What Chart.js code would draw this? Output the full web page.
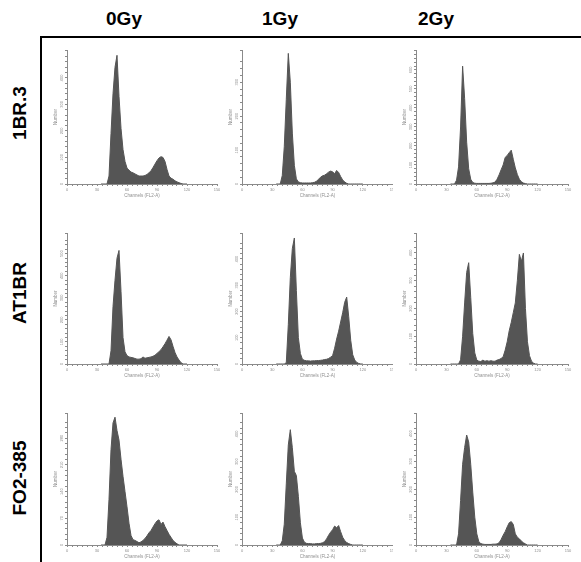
<!DOCTYPE html>
<html>
<head>
<meta charset="utf-8">
<script src="https://cdn.jsdelivr.net/npm/chart.js@4.4.1/dist/chart.umd.min.js"></script>
<style>
  html, body { margin: 0; padding: 0; background: #fff; }
  #fig { position: relative; width: 581px; height: 562px; overflow: hidden;
         font-family: "Liberation Sans", Arial, sans-serif; color: #000; }
  .frame { position: absolute; left: 40px; top: 36px; width: 560px; height: 540px;
           border-left: 2px solid #000; border-top: 2px solid #000; }
  .col-head { position: absolute; top: 7px; width: 100px; margin-left: -50px; text-align: center;
              font-weight: bold; font-size: 19px; line-height: 24px; }
  .row-head { position: absolute; left: 20px; width: 140px; height: 24px; margin-left: -70px; margin-top: -12px;
              text-align: center; font-weight: bold; font-size: 19px; line-height: 24px; transform: rotate(-90deg); }
  .cell { position: absolute; overflow: hidden; }
  .cell canvas { position: absolute; }
</style>
</head>
<body>
<div id="fig">
  <div class="frame"></div>
</div>
<script>
// Dose columns and cell-line rows
const doses = ['0Gy', '1Gy', '2Gy'];
const cellLines = ['1BR.3', 'AT1BR', 'FO2-385'];

// DNA content channel (FL2-A), shared by every histogram
const channels = [34,36,38,40,42,44,46,48,50,52, 54,56,58,60,62,64,66,68,70,72,
                  74,76,78,80,82,84,86,88,90,92, 94,96,98,100,102,104,106,108,110,112,
                  114,116,118,120];

// Cell counts per channel
const counts_1BR3_0Gy = [0,0,0,0,30,190,340,440,485,330, 210,130,85,60,52,45,42,38,34,30,
                         30,30,32,36,42,50,62,75,88,98, 103,100,85,55,30,22,18,12,8,5, 2,0,0,0];
const counts_1BR3_1Gy = [0,0,0,25,110,250,385,300,150,55, 15,6,4,3,3,3,3,3,4,5,
                         8,14,20,24,26,30,35,38,36,30, 40,34,22,12,6,2,0,0,0,0, 0,0,0,0];
const counts_1BR3_2Gy = [0,0,0,20,90,300,620,450,220,80, 25,8,4,3,3,3,3,3,3,3,
                         4,6,10,25,48,75,100,140,150,165, 178,130,85,50,25,12,5,2,0,0, 0,0,0,0];
const counts_AT1BR_0Gy = [0,0,0,0,0,60,260,380,480,515, 330,120,55,38,32,30,28,25,22,22,
                          24,32,26,28,30,32,35,40,48,56, 65,78,92,108,125,110,80,52,32,18, 6,0,0,0];
const counts_AT1BR_1Gy = [0,0,0,0,0,5,150,330,440,480, 280,100,40,18,14,12,12,11,12,12,
                          13,13,14,15,17,18,21,26,32,60, 95,125,160,195,235,255,180,90,35,15, 6,2,0,0];
const counts_AT1BR_2Gy = [0,0,0,0,0,15,100,220,330,365, 240,110,40,14,10,9,14,10,12,10,
                          12,10,10,14,16,20,26,50,80,120, 150,185,220,300,395,370,400,200,80,30, 10,3,0,0];
const counts_FO2_0Gy = [0,0,0,20,120,250,320,335,300,275, 225,180,140,100,57,25,14,12,9,6,
                        8,12,17,24,32,38,47,56,63,66, 54,60,48,38,28,20,12,7,3,0, 0,0,0,0];
const counts_FO2_1Gy = [0,0,0,15,75,220,360,415,350,265, 250,175,80,25,10,6,5,5,4,4,
                        5,5,6,8,12,22,35,46,55,68, 62,70,48,28,16,9,5,2,0,0, 0,0,0,0];
const counts_FO2_2Gy = [0,0,0,0,40,160,290,350,395,370, 290,190,100,40,12,5,3,2,2,2,
                        2,3,3,4,8,20,35,48,65,80, 84,74,40,28,22,14,8,4,0,0, 0,0,0,0];

// Histograms in row order (cell line), then column order (dose)
const panels = [
  [counts_1BR3_0Gy, counts_1BR3_1Gy, counts_1BR3_2Gy],
  [counts_AT1BR_0Gy, counts_AT1BR_1Gy, counts_AT1BR_2Gy],
  [counts_FO2_0Gy, counts_FO2_1Gy, counts_FO2_2Gy]
];

// Axis ranges and labelled tick spacing
const xMax = 150;
const xLabelStep = 30;
const yMax = [
  [505, 395, 705],
  [594, 499, 472],
  [346, 475, 474]
];
const yLabelStep = [
  [100, 100, 100],
  [100, 100, 100],
  [70, 100, 100]
];

// Layout of the 3x3 grid (pixels)
const axisLeft = [67, 242, 416];
const plotWidth = [150, 151, 152];
const plotTop = [50, 233, 413];
const plotBottom = [184, 364, 545];
const clipX = [[43, 220], [220, 393], [393, 572]];
const clipY = [[38, 220], [220, 400], [400, 562]];
const headX = [124, 280, 436];
const rowMid = [113, 293, 478];

const Y_AXIS_W = 14, X_AXIS_H = 14, PAD_TOP = 6, PAD_RIGHT = 8;
const INK = '#555555';
const AXIS = '#8a8a8a';
const LABEL = '#8f8f8f';

const fig = document.getElementById('fig');

doses.forEach((d, c) => {
  const el = document.createElement('div');
  el.className = 'col-head';
  el.style.left = headX[c] + 'px';
  el.textContent = d;
  fig.appendChild(el);
});
cellLines.forEach((name, r) => {
  const el = document.createElement('div');
  el.className = 'row-head';
  el.style.top = rowMid[r] + 'px';
  el.textContent = name;
  fig.appendChild(el);
});

function onStep(v, step) {
  const q = v / step;
  return Math.abs(q - Math.round(q)) < 1e-6;
}

for (let r = 0; r < 3; r++) {
  for (let c = 0; c < 3; c++) {
    const cell = document.createElement('div');
    cell.className = 'cell';
    cell.style.left = clipX[c][0] + 'px';
    cell.style.top = clipY[r][0] + 'px';
    cell.style.width = (clipX[c][1] - clipX[c][0]) + 'px';
    cell.style.height = (clipY[r][1] - clipY[r][0]) + 'px';
    fig.appendChild(cell);

    const w = Y_AXIS_W + plotWidth[c] + PAD_RIGHT;
    const h = PAD_TOP + (plotBottom[r] - plotTop[r]) + X_AXIS_H;
    const cv = document.createElement('canvas');
    cv.width = w; cv.height = h;
    cv.style.width = w + 'px'; cv.style.height = h + 'px';
    cv.style.left = (axisLeft[c] - Y_AXIS_W - clipX[c][0]) + 'px';
    cv.style.top = (plotTop[r] - PAD_TOP - clipY[r][0]) + 'px';
    cell.appendChild(cv);

    const counts = panels[r][c];
    const major = yLabelStep[r][c];
    new Chart(cv, {
      type: 'line',
      data: {
        datasets: [{
          data: channels.map((ch, i) => ({ x: ch, y: counts[i] })),
          fill: 'origin',
          backgroundColor: INK,
          borderColor: INK,
          borderWidth: 1,
          pointRadius: 0,
          tension: 0
        }]
      },
      options: {
        responsive: false,
        animation: false,
        devicePixelRatio: 1,
        layout: { padding: { left: 0, top: PAD_TOP, right: PAD_RIGHT, bottom: 0 } },
        plugins: { legend: { display: false }, tooltip: { enabled: false } },
        scales: {
          x: {
            type: 'linear', min: 0, max: xMax,
            afterFit: s => { s.height = X_AXIS_H; },
            ticks: {
              stepSize: 5, autoSkip: false, maxTicksLimit: 1000,
              minRotation: 0, maxRotation: 0, padding: 1,
              font: { size: 4, family: 'Liberation Sans' }, color: LABEL,
              callback: v => onStep(v, xLabelStep) ? String(v) : ''
            },
            grid: { drawOnChartArea: false, tickLength: 2, color: AXIS, lineWidth: 1 },
            border: { color: AXIS, width: 1 },
            title: { display: true, text: 'Channels (FL2-A)', color: LABEL,
                     font: { size: 4.5, family: 'Liberation Sans' }, padding: { top: 0, bottom: 0 } }
          },
          y: {
            type: 'linear', min: 0, max: yMax[r][c],
            afterFit: s => { s.width = Y_AXIS_W; },
            ticks: {
              stepSize: major / 5, autoSkip: false, maxTicksLimit: 1000,
              minRotation: 90, maxRotation: 90, padding: 0, crossAlign: 'center',
              font: { size: 4, family: 'Liberation Sans' }, color: LABEL,
              callback: v => onStep(v, major) ? String(v) : ''
            },
            grid: { drawOnChartArea: false, tickLength: 2, color: AXIS, lineWidth: 1 },
            border: { color: AXIS, width: 1 },
            title: { display: true, text: 'Number', color: LABEL,
                     font: { size: 4.5, family: 'Liberation Sans' }, padding: { top: 0, bottom: 0 } }
          }
        }
      }
    });
  }
}
</script>
</body>
</html>
